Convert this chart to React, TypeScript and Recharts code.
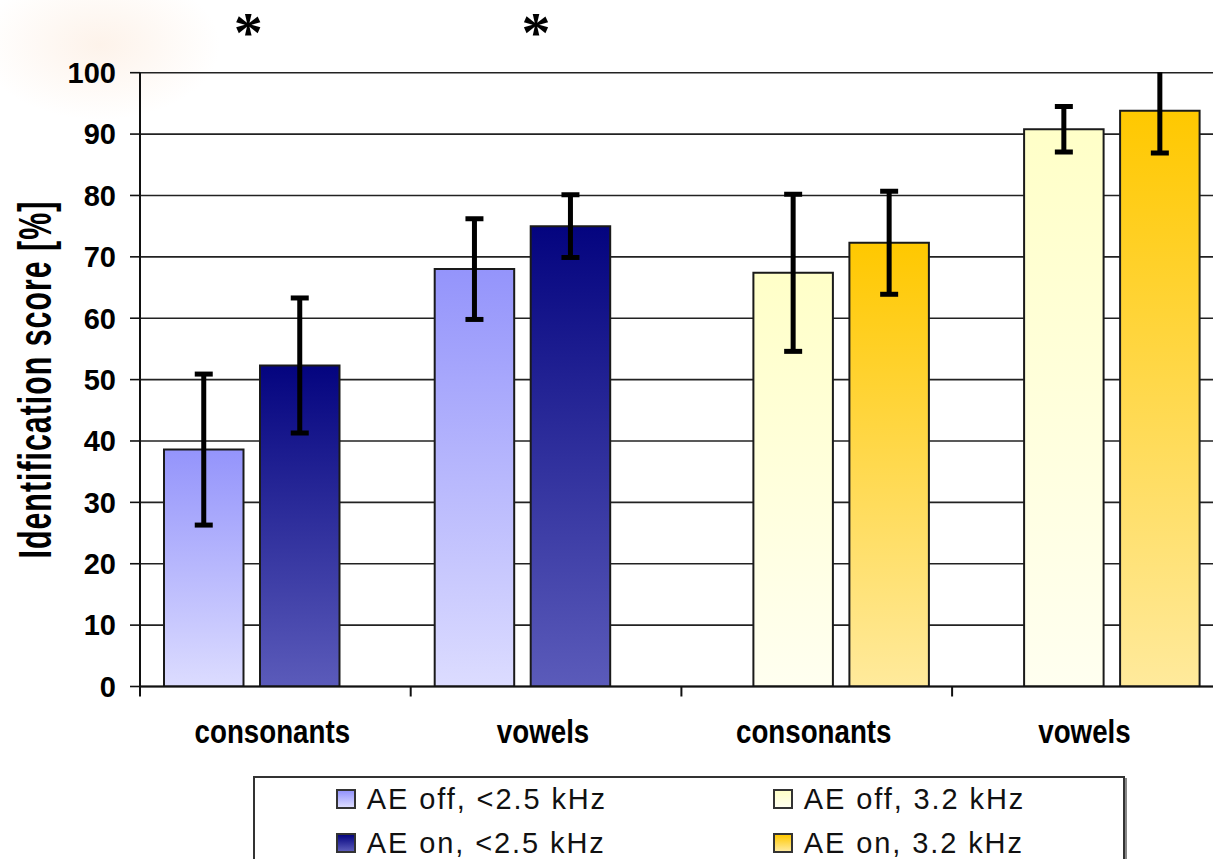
import React from 'react';
import { BarChart, Bar, XAxis, YAxis, CartesianGrid, ErrorBar, ReferenceDot } from 'recharts';

const catIds = ['c1', 'c2', 'c3', 'c4'];
const categories = ['consonants', 'vowels', 'consonants', 'vowels'];
const seriesKeys = ['blueOff', 'yellowOff', 'blueOn', 'yellowOn'];
const seriesNames = ['AE off, <2.5 kHz', 'AE off, 3.2 kHz', 'AE on, <2.5 kHz', 'AE on, 3.2 kHz'];
const blueOff = [38.6, 68.0, 0, 0];
const blueOffErr = [12.3, 8.2, 0, 0];
const yellowOff = [0, 0, 67.4, 90.8];
const yellowOffErr = [0, 0, 12.8, 3.7];
const blueOn = [52.3, 75.0, 0, 0];
const blueOnErr = [11.0, 5.1, 0, 0];
const yellowOn = [0, 0, 72.3, 93.8];
const yellowOnErr = [0, 0, 8.4, 6.9];
const yTicks = [0, 10, 20, 30, 40, 50, 60, 70, 80, 90, 100];
const significant = [
  { cat: 'c1', level: 108, shift: -27 },
  { cat: 'c2', level: 108, shift: -10 },
];

const gradTop = ['#9494fb', '#ffffc8', '#04047f', '#ffc800'];
const gradBottom = ['#dcdcff', '#fffff0', '#5b5bba', '#ffea9c'];

const values = [blueOff, yellowOff, blueOn, yellowOn];
const errors = [blueOffErr, yellowOffErr, blueOnErr, yellowOnErr];

const data = catIds.map((id, i) => {
  const row: any = { id, label: categories[i] };
  seriesKeys.forEach((k, s) => {
    row[k] = values[s][i];
    row[k + 'Err'] = errors[s][i];
  });
  return row;
});

const FONT = '"Liberation Sans", Arial, sans-serif';
const MARGIN_TOP = 72.7;

const XTick = (props: any) => {
  const { x, y, payload } = props;
  const half = payload && payload.offset ? payload.offset : 0;
  const idx = catIds.indexOf(payload.value);
  return (
    <g>
      <line x1={x - half} x2={x - half} y1={y} y2={y + 10} stroke="#111" strokeWidth={2} />
      <text
        transform={`translate(${x - 3},${y + 56}) scale(0.84,1)`}
        textAnchor="middle"
        fontSize={33}
        fontWeight="bold"
        fontFamily={FONT}
        fill="#000"
      >
        {categories[idx]}
      </text>
    </g>
  );
};

const YLabel = (props: any) => {
  const vb = props.viewBox || { x: 0, y: MARGIN_TOP, width: 140, height: 614 };
  const cy = vb.y + vb.height / 2;
  return (
    <text
      transform={`translate(${vb.x + 51},${cy}) rotate(-90) scale(0.66,1)`}
      textAnchor="middle"
      fontSize={46}
      fontWeight="bold"
      fontFamily={FONT}
      fill="#000"
      letterSpacing={1.5}
    >
      Identification score [%]
    </text>
  );
};

const Star = (shift: number) => (props: any) => (
  <text
    x={props.cx + shift}
    y={props.cy + 28}
    textAnchor="middle"
    fontSize={58}
    fontWeight="bold"
    fontFamily='"Liberation Serif", "Times New Roman", serif'
    fill="#000"
  >
    *
  </text>
);

export default function App() {
  return (
    <div
      style={{
        position: 'fixed',
        left: 0,
        top: 0,
        width: 1213,
        height: 859,
        overflow: 'hidden',
        background: '#fff',
      }}
    >
      <style>{`.recharts-errorBar, .recharts-errorBars { clip-path: url(#topClip); }`}</style>
      <div
        style={{
          position: 'absolute',
          left: 0,
          top: 0,
          width: 260,
          height: 180,
          background:
            'radial-gradient(ellipse 120px 75px at 100px 45px, rgba(250,220,195,0.35), rgba(255,255,255,0))',
        }}
      />
      <div style={{ position: 'absolute', left: 0, top: 0 }}>
        <BarChart
          width={1230}
          height={859}
          data={data}
          margin={{ top: MARGIN_TOP, right: 7.2, left: 0, bottom: 112.5 }}
          barSize={79.5}
          barGap={-31.5}
          style={{ fontFamily: FONT }}
        >
          <defs>
            {seriesKeys.map((k, i) => (
              <linearGradient key={k} id={`grad-${k}`} x1="0" y1="0" x2="0" y2="1">
                <stop offset="0%" stopColor={gradTop[i]} />
                <stop offset="100%" stopColor={gradBottom[i]} />
              </linearGradient>
            ))}
            <clipPath id="topClip" clipPathUnits="userSpaceOnUse">
              <rect x={-10} y={MARGIN_TOP - 0.5} width={1300} height={900} />
            </clipPath>
          </defs>
          <CartesianGrid vertical={false} stroke="#222" strokeWidth={1.6} />
          <XAxis
            dataKey="id"
            height={60}
            tickLine={false}
            tickSize={0}
            tickMargin={0}
            axisLine={{ stroke: '#111', strokeWidth: 2 }}
            tick={<XTick />}
            interval={0}
          />
          <YAxis
            width={140}
            domain={[0, 100]}
            ticks={yTicks}
            allowDataOverflow
            interval={0}
            tickSize={10}
            tickMargin={14}
            tickLine={{ stroke: '#111', strokeWidth: 1.6 }}
            axisLine={{ stroke: '#111', strokeWidth: 2 }}
            tick={{ fontSize: 29, fontWeight: 'bold', fill: '#000', fontFamily: FONT }}
            label={{ content: <YLabel /> }}
          />
          {seriesKeys.map((k, i) => (
            <Bar
              key={k}
              dataKey={k}
              name={seriesNames[i]}
              fill={`url(#grad-${k})`}
              stroke="#1a1a1a"
              strokeWidth={2}
              isAnimationActive={false}
            >
              <ErrorBar
                dataKey={k + 'Err'}
                direction="y"
                width={9}
                stroke="#000"
                strokeWidth={5}
                isAnimationActive={false}
              />
            </Bar>
          ))}
          {significant.map((s) => (
            <ReferenceDot
              key={s.cat}
              x={s.cat}
              y={s.level}
              r={0}
              ifOverflow="visible"
              shape={Star(s.shift)}
            />
          ))}
        </BarChart>
      </div>
      <div
        style={{
          position: 'absolute',
          left: 252.8,
          top: 776,
          width: 868,
          height: 120,
          border: '2px solid #333',
          boxShadow: '2px 2px 0 #888',
          background: '#fff',
          fontFamily: FONT,
        }}
      >
        {seriesKeys.map((k, i) => (
          <div
            key={k}
            style={{
              position: 'absolute',
              left: i % 2 === 0 ? 81 : 518,
              top: Math.floor(i / 2) === 0 ? 10 : 54,
              display: 'flex',
              alignItems: 'center',
              height: 22,
            }}
          >
            <div
              style={{
                width: 16,
                height: 16,
                border: '2px solid #333',
                background: `linear-gradient(to bottom, ${gradTop[i]}, ${gradBottom[i]})`,
              }}
            />
            <span
              style={{
                marginLeft: 11,
                fontSize: 29,
                letterSpacing: 1.9,
                color: '#111',
                whiteSpace: 'nowrap',
                lineHeight: '22px',
              }}
            >
              {seriesNames[i]}
            </span>
          </div>
        ))}
      </div>
    </div>
  );
}
